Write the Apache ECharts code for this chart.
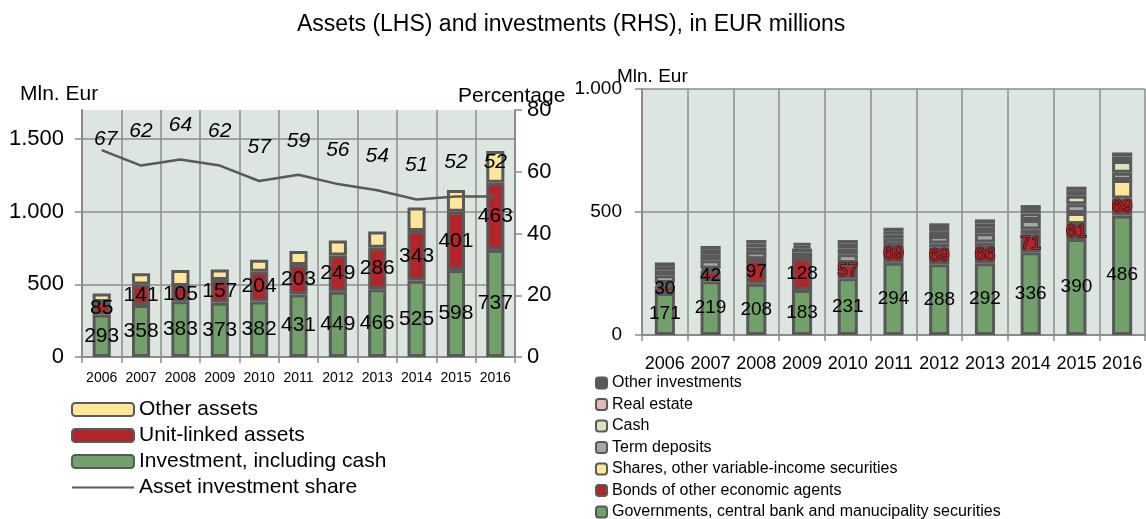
<!DOCTYPE html>
<html>
<head>
<meta charset="utf-8">
<title>Assets and investments</title>
<script src="https://cdn.jsdelivr.net/npm/echarts@6/dist/echarts.min.js"></script>
<style>
  html, body { margin: 0; padding: 0; background: #ffffff; }
  #chart { width: 1146px; height: 519px; }
</style>
</head>
<body>
<div id="chart"></div>
<script>
// categories
const years = ['2006', '2007', '2008', '2009', '2010', '2011', '2012', '2013', '2014', '2015', '2016'];

// left chart: assets (Mln. Eur) and share (%)
const investment = [293, 358, 383, 373, 382, 431, 449, 466, 525, 598, 737];
const unitLinked = [85, 141, 105, 157, 204, 203, 249, 286, 343, 401, 463];
const otherAssets = [59, 78, 110, 72, 84, 96, 104, 111, 161, 151, 217];
const investmentShare = [67, 62, 64, 62, 57, 59, 56, 54, 51, 52, 52];

// right chart: investments (Mln. Eur)
const govSecurities = [171, 219, 208, 183, 231, 294, 288, 292, 336, 390, 486];
const bondsOther = [30, 42, 97, 128, 57, 69, 69, 66, 71, 61, 69];
const shares = [10, 8, 3, 2, 5, 3, 15, 18, 22, 45, 75];
const termDeposits = [32, 35, 30, 22, 35, 25, 30, 38, 38, 35, 30];
const cash = [20, 22, 18, 16, 25, 17, 20, 22, 27, 35, 47];
const realEstate = [17, 20, 16, 12, 18, 14, 17, 18, 18, 20, 18];
const otherInvestments = [15, 16, 14, 12, 15, 14, 15, 16, 16, 17, 17];

// tick labels
const leftTicks = [0, 500, 1000, 1500];
const pctTicks = [0, 20, 40, 60, 80];
const rightTicks = [0, 500, 1000];

const FONT = "'Liberation Sans', Arial, sans-serif";
const GRID_C = '#8c8c8c';
const EDGE = '#595959';
const PLOT_BG = '#dde5e1';

// 1500 -> "1.500"
const dotThousands = v => String(v).replace(/\B(?=(\d{3})+(?!\d))/g, '.');

const chart = echarts.init(document.getElementById('chart'));

const catAxis = (gridIndex, fontSize, margin) => ({
  type: 'category',
  gridIndex,
  data: years,
  axisLine: { lineStyle: { color: GRID_C, width: 2 } },
  axisTick: { show: true, length: 6, lineStyle: { color: GRID_C, width: 1.5 } },
  axisLabel: { color: '#000', fontFamily: FONT, fontSize, margin, interval: 0 },
  splitLine: { show: true, interval: 0, lineStyle: { color: GRID_C, width: 1.5 } }
});

const barStyle = color => ({ color, borderColor: EDGE, borderWidth: 3 });

const leftLabel = { show: true, position: 'inside', color: '#000', fontFamily: FONT, fontSize: 21 };
const rightLabel = { show: true, position: 'inside', color: '#000', fontFamily: FONT, fontSize: 19 };

const option = {
  backgroundColor: '#ffffff',
  animation: false,
  title: {
    text: 'Assets (LHS) and investments (RHS), in EUR millions',
    left: 292,
    top: 8,
    textStyle: { fontFamily: FONT, fontSize: 23, fontWeight: 'normal', color: '#000' }
  },
  legend: [
    {
      left: 66,
      top: 394,
      orient: 'vertical',
      itemWidth: 62,
      itemHeight: 13,
      itemGap: 5,
      data: ['Other assets', 'Unit-linked assets', 'Investment, including cash', 'Asset investment share'],
      textStyle: { fontFamily: FONT, fontSize: 21, color: '#000' }
    },
    {
      left: 590,
      top: 370,
      height: 220,
      orient: 'vertical',
      itemWidth: 11,
      itemHeight: 11,
      itemGap: 5.5,
      data: ['Other investments', 'Real estate', 'Cash', 'Term deposits',
        'Shares, other variable-income securities', 'Bonds of other economic agents',
        'Governments, central bank and manucipality securities'],
      textStyle: { fontFamily: FONT, fontSize: 16, color: '#000' }
    }
  ],
  grid: [
    { left: 82, right: 631, top: 110, bottom: 162, show: true, backgroundColor: PLOT_BG, borderWidth: 0 },
    { left: 642, right: 1, top: 89, bottom: 184, show: true, backgroundColor: PLOT_BG, borderWidth: 0 }
  ],
  xAxis: [catAxis(0, 14, 14), catAxis(1, 18, 20)],
  yAxis: [
    {
      type: 'value', gridIndex: 0, min: leftTicks[0], max: 1700, interval: leftTicks[1] - leftTicks[0],
      axisLine: { show: true, lineStyle: { color: GRID_C, width: 2 } },
      axisTick: { show: true, length: 7, lineStyle: { color: GRID_C, width: 1.5 } },
      axisLabel: { color: '#000', fontFamily: FONT, fontSize: 22, margin: 18, showMaxLabel: false,
        formatter: v => leftTicks.includes(v) ? dotThousands(v) : '' },
      splitLine: { show: true, showMaxLine: false, lineStyle: { color: GRID_C, width: 1.5 } }
    },
    {
      type: 'value', gridIndex: 0, position: 'right', min: pctTicks[0], max: pctTicks[pctTicks.length - 1],
      interval: pctTicks[1] - pctTicks[0],
      axisLine: { show: true, lineStyle: { color: GRID_C, width: 2 } },
      axisTick: { show: true, length: 7, lineStyle: { color: GRID_C, width: 1.5 } },
      axisLabel: { color: '#000', fontFamily: FONT, fontSize: 22, margin: 12 },
      splitLine: { show: false }
    },
    {
      type: 'value', gridIndex: 1, min: rightTicks[0], max: rightTicks[rightTicks.length - 1],
      interval: rightTicks[1] - rightTicks[0],
      axisLine: { show: true, lineStyle: { color: GRID_C, width: 2 } },
      axisTick: { show: true, length: 7, lineStyle: { color: GRID_C, width: 1.5 } },
      axisLabel: { color: '#000', fontFamily: FONT, fontSize: 19, margin: 20, formatter: dotThousands },
      splitLine: { show: true, lineStyle: { color: GRID_C, width: 1.5 } }
    }
  ],
  graphic: [
    { type: 'text', left: 20, top: 84, style: { text: 'Mln. Eur', font: '21px ' + FONT, fill: '#000' } },
    { type: 'text', left: 458, top: 86, style: { text: 'Percentage', font: '21px ' + FONT, fill: '#000' } },
    { type: 'text', left: 617, top: 67, style: { text: 'Mln. Eur', font: '19px ' + FONT, fill: '#000' } }
  ],
  series: [
    // left chart
    { name: 'Investment, including cash', type: 'bar', stack: 'assets', xAxisIndex: 0, yAxisIndex: 0,
      barWidth: '46%', data: investment, itemStyle: barStyle('#72a06a'), label: leftLabel },
    { name: 'Unit-linked assets', type: 'bar', stack: 'assets', xAxisIndex: 0, yAxisIndex: 0,
      data: unitLinked, itemStyle: barStyle('#b0262a'), label: leftLabel },
    { name: 'Other assets', type: 'bar', stack: 'assets', xAxisIndex: 0, yAxisIndex: 0,
      data: otherAssets, itemStyle: barStyle('#ffe699') },
    { name: 'Asset investment share', type: 'line', xAxisIndex: 0, yAxisIndex: 1, z: 5,
      data: investmentShare.map((v, i) => i === 0 ? { value: v, label: { distance: 0, offset: [4, 0] } } : v),
      symbol: 'circle', symbolSize: 1, showAllSymbol: true,
      lineStyle: { color: EDGE, width: 2.5 }, itemStyle: { color: 'rgba(0,0,0,0)' },
      label: { show: true, position: 'top', distance: 23, color: '#000', fontFamily: FONT,
        fontStyle: 'italic', fontSize: 21 } },

    // right chart
    { name: 'Governments, central bank and manucipality securities', type: 'bar', stack: 'inv',
      xAxisIndex: 1, yAxisIndex: 2, barWidth: '44%', data: govSecurities,
      itemStyle: barStyle('#72a06a'), label: rightLabel },
    { name: 'Bonds of other economic agents', type: 'bar', stack: 'inv', xAxisIndex: 1, yAxisIndex: 2,
      data: bondsOther.map((v, i) => i >= 4
        ? { value: v, label: { color: '#b0262a', textBorderColor: '#111', textBorderWidth: 1.2 } }
        : v),
      itemStyle: barStyle('#b0262a'), label: rightLabel },
    { name: 'Shares, other variable-income securities', type: 'bar', stack: 'inv', xAxisIndex: 1, yAxisIndex: 2,
      data: shares, itemStyle: barStyle('#ffe699') },
    { name: 'Term deposits', type: 'bar', stack: 'inv', xAxisIndex: 1, yAxisIndex: 2,
      data: termDeposits, itemStyle: barStyle('#a6a6a6') },
    { name: 'Cash', type: 'bar', stack: 'inv', xAxisIndex: 1, yAxisIndex: 2,
      data: cash, itemStyle: barStyle('#d8e4bc') },
    { name: 'Real estate', type: 'bar', stack: 'inv', xAxisIndex: 1, yAxisIndex: 2,
      data: realEstate, itemStyle: barStyle('#e6b9b8') },
    { name: 'Other investments', type: 'bar', stack: 'inv', xAxisIndex: 1, yAxisIndex: 2,
      data: otherInvestments, itemStyle: barStyle(EDGE) }
  ]
};

chart.setOption(option);
</script>
</body>
</html>
